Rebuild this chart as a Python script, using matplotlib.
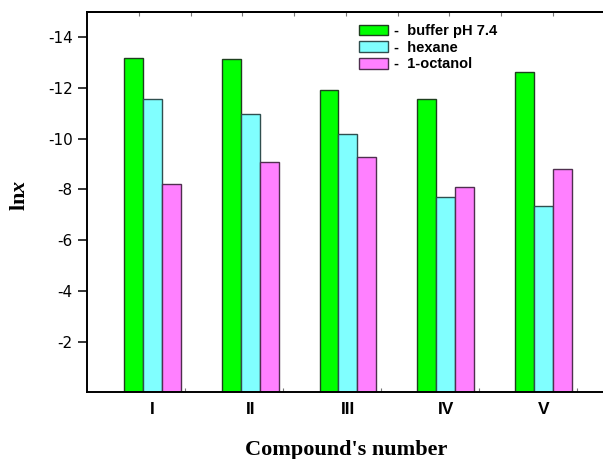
import matplotlib
matplotlib.use("Agg")
import matplotlib.pyplot as plt
import numpy as np

compounds = ["I", "II", "III", "IV", "V"]
series_names = ["buffer pH 7.4", "hexane", "1-octanol"]
buffer_vals = [-13.19, -13.13, -11.93, -11.55, -12.63]
hexane_vals = [-11.57, -10.97, -10.19, -7.71, -7.36]
octanol_vals = [-8.20, -9.08, -9.28, -8.11, -8.82]
y_ticks = [-14, -12, -10, -8, -6, -4, -2]

colors = ["#00FF00", "#80FFFF", "#FF80FF"]
edges = ["#1f3f1f", "#2f4f4f", "#4f2f4f"]

plt.rcParams['mathtext.fontset'] = 'custom'
plt.rcParams['mathtext.it'] = 'Liberation Serif:italic:bold'
plt.rcParams['mathtext.rm'] = 'Liberation Serif:bold'

W, H = 603, 459
fig = plt.figure(figsize=(W / 100, H / 100), dpi=100)
ax = fig.add_axes([86.7 / W, (H - 392.3) / H, (606 - 86.7) / W, (392.3 - 12) / H])

x = np.arange(1, len(compounds) + 1)
bw = 0.194
for i, (vals, name) in enumerate(zip([buffer_vals, hexane_vals, octanol_vals], series_names)):
    ax.bar(x + (i - 1) * bw, vals, width=bw, color=colors[i], edgecolor=edges[i],
           linewidth=1.0, label="-  " + name, zorder=2)

ax.set_xlim(0.327, 5.64)
ax.set_ylim(0, -15)

for s in ["left", "bottom", "top"]:
    ax.spines[s].set_linewidth(1.4)
    ax.spines[s].set_color("black")
ax.spines["right"].set_visible(False)

ax.set_yticks(y_ticks)
ax.set_yticklabels([str(v) for v in y_ticks], fontfamily="DejaVu Sans", fontsize=11)
ax.tick_params(axis="y", direction="out", length=6.7, width=1.1, pad=3.5, color="black")

ax.set_xticks(x)
ax.set_xticklabels(compounds, fontfamily="Liberation Sans", fontweight="bold", fontsize=12.5)
ax.tick_params(axis="x", which="major", length=0, pad=6.7)
bottom_minor = 0.83 + 0.501 * np.arange(10)
ax.set_xticks(bottom_minor, minor=True)
ax.tick_params(axis="x", which="minor", direction="in", length=3, width=0.8, color="#777777")

sec = ax.secondary_xaxis("top")
top_minor = 0.862 + 0.529 * np.arange(10)
sec.set_xticks(top_minor)
sec.set_xticklabels([])
sec.tick_params(direction="in", length=3, width=0.8, color="#777777")
sec.spines["top"].set_linewidth(1.4)

leg = ax.legend(loc="upper left", bbox_to_anchor=(359 / W, (H - 24) / H),
                bbox_transform=fig.transFigure, frameon=False, borderpad=0,
                borderaxespad=0, handlelength=2.0, handleheight=0.75,
                handletextpad=0.4, labelspacing=0.18,
                prop={"family": "Liberation Sans", "weight": "bold", "size": 10.5})

fig.text(20 / W, (H - 195) / H, r"ln$x$", rotation=90, ha="center", va="center",
         fontfamily="Liberation Serif", fontweight="bold", fontsize=16)
fig.text(346.5 / W, 4 / H, "Compound's number", ha="center", va="baseline",
         fontfamily="Liberation Serif", fontweight="bold", fontsize=16)

fig.savefig("out.png", dpi=100)
